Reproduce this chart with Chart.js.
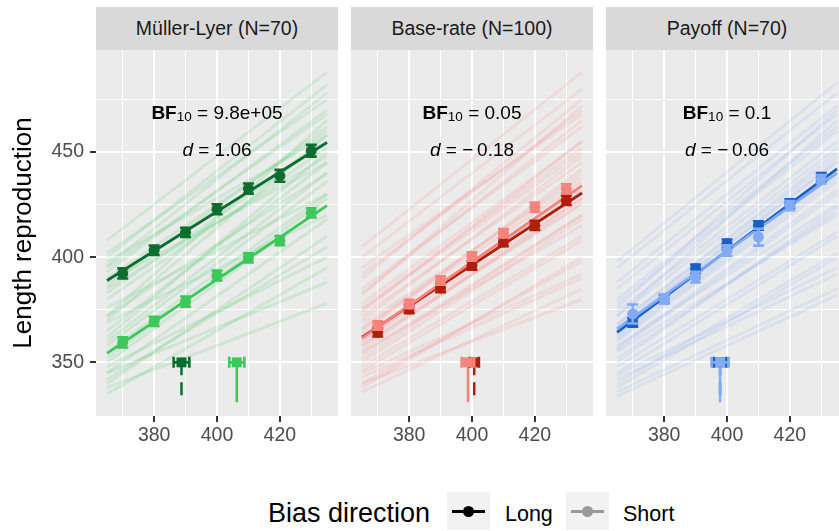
<!DOCTYPE html>
<html>
<head>
<meta charset="utf-8">
<script src="https://cdn.jsdelivr.net/npm/chart.js@4.4.1/dist/chart.umd.min.js"></script>
<style>
  body { margin: 0; width: 839px; height: 531px; overflow: hidden; background: #fff; position: relative;
         font-family: "Liberation Sans", Arial, sans-serif; }
  .strip { position: absolute; top: 7px; height: 43px; width: 242px; background: #D9D9D9; color: #1A1A1A;
           font-size: 19.5px; line-height: 43px; text-align: center; white-space: nowrap; }
  canvas { position: absolute; top: 50px; }
  .lg { position: absolute; white-space: nowrap; color: #000; }
  .key { position: absolute; top: 492px; width: 43px; height: 38px; background: #F2F2F2; }
  .key .ln { position: absolute; left: 5px; right: 5px; top: 18px; height: 3px; }
  .key .dot { position: absolute; left: 16px; top: 14px; width: 11px; height: 11px; border-radius: 50%; }
</style>
</head>
<body>
<div class="strip" style="left:96px">Müller-Lyer (N=70)</div>
<div class="strip" style="left:351px">Base-rate (N=100)</div>
<div class="strip" style="left:606px">Payoff (N=70)</div>
<canvas id="c1" width="338" height="426" style="left:0px"></canvas>
<canvas id="c2" width="242" height="426" style="left:351px"></canvas>
<canvas id="c3" width="242" height="426" style="left:606px"></canvas>

<div class="lg" style="left:268px;top:498px;font-size:27px">Bias direction</div>
<div class="key" style="left:447px"><div class="ln" style="background:#000"></div><div class="dot" style="background:#000"></div></div>
<div class="lg" style="left:505px;top:502px;font-size:21.5px">Long</div>
<div class="key" style="left:566px"><div class="ln" style="background:#999"></div><div class="dot" style="background:#999"></div></div>
<div class="lg" style="left:623px;top:502px;font-size:21.5px">Short</div>

<script>
/* ===== data ===== */
const lengths = [370, 380, 390, 400, 410, 420, 430];
const fitX = [365, 435];
const xGrid = [370, 380, 390, 400, 410, 420, 430];
const xTicks = [380, 400, 420];
const yGrid = [350, 375, 400, 425, 450, 475];
const yTicks = [350, 400, 450];
const bfValues = ['9.8e+05', '0.05', '0.1'];
const dValues = ['1.06', '\u2212\u20090.18', '\u2212\u20090.06'];

// Müller-Lyer
const mlLongMean = [392.3, 403.3, 411.8, 422.8, 432.6, 438.7, 450.6];
const mlLongErr = [2.4, 2.2, 2.2, 2.4, 2.4, 2.8, 2.8];
const mlShortMean = [359.5, 369.5, 378.9, 391.3, 399.7, 407.9, 421.1];
const mlShortErr = [2.4, 2.2, 2.4, 2.4, 2.2, 2.2, 2.2];
const mlLongFit = [388.9, 454.5];
const mlShortFit = [354.3, 424.5];
const mlLongStart = [372, 380, 385, 390, 395, 398, 402, 408, 388, 376, 393, 383, 400, 369, 386, 396];
const mlLongEnd = [440, 452, 448, 460, 468, 458, 475, 488, 445, 430, 470, 455, 482, 420, 462, 478];
const mlShortStart = [335, 340, 345, 350, 355, 360, 365, 370, 348, 338, 358, 362, 342, 352, 345, 372];
const mlShortEnd = [395, 410, 418, 425, 430, 440, 445, 458, 400, 378, 436, 450, 405, 428, 388, 465];

// Base-rate
const brLongMean = [364.3, 375.4, 385.4, 396.0, 407.2, 415.1, 427.0];
const brLongErr = [2, 2, 2, 2, 2, 2.2, 2.2];
const brShortMean = [367.5, 377.8, 388.9, 400.3, 411.4, 423.8, 432.5];
const brShortErr = [2, 2, 2, 2, 2, 2.2, 2.2];
const brLongFit = [362, 430.5];
const brShortFit = [361.5, 434];
const brLongStart = [340, 348, 352, 358, 362, 366, 372, 378, 385, 392, 355, 345, 368, 375, 400, 336, 360, 382];
const brLongEnd = [398, 410, 420, 425, 432, 440, 445, 455, 462, 470, 415, 392, 438, 450, 480, 385, 428, 472];
const brShortStart = [338, 346, 350, 356, 360, 364, 370, 376, 383, 390, 354, 343, 366, 374, 405, 340, 358, 395];
const brShortEnd = [400, 408, 418, 428, 434, 442, 448, 452, 465, 475, 420, 390, 436, 455, 488, 380, 426, 468];

// Payoff
const poLongMean = [369.0, 380.2, 394.5, 406.4, 415.1, 425.5, 438.0];
const poLongErr = [2, 2, 2, 2, 2, 2, 2];
const poShortMean = [373.0, 380.2, 390.5, 403.2, 409.5, 424.5, 437.0];
const poShortErr = [4.5, 2.2, 2.5, 2.5, 4, 2.2, 2];
const poLongFit = [364.3, 442];
const poShortFit = [365.9, 440];
const poLongStart = [340, 348, 352, 356, 362, 366, 372, 378, 385, 395, 344, 358, 368, 376, 336, 360];
const poLongEnd = [402, 412, 422, 430, 440, 446, 452, 460, 468, 478, 395, 425, 450, 470, 385, 436];
const poShortStart = [338, 345, 350, 357, 363, 368, 374, 380, 388, 398, 342, 355, 366, 372, 334, 361];
const poShortEnd = [400, 410, 424, 432, 442, 448, 455, 462, 472, 483, 392, 420, 445, 465, 382, 438];

// bias markers at the bottom
const pseLongX = [388.7, 400.7, 397.8];
const pseLongErr = [2.5, 1.5, 2.0];
const pseShortX = [406.3, 398.7, 397.8];
const pseShortErr = [2.4, 2.0, 2.7];
const pseY = [350, 331];

/* ===== helpers ===== */
function rgba(hex, a) {
  const n = parseInt(hex.slice(1), 16);
  return 'rgba(' + (n >> 16) + ',' + ((n >> 8) & 255) + ',' + (n & 255) + ',' + a + ')';
}
const FONT = '"Liberation Sans", Arial, sans-serif';

const bgPlugin = {
  id: 'panelBg',
  beforeDraw(chart) {
    const a = chart.chartArea, ctx = chart.ctx;
    ctx.save();
    ctx.fillStyle = '#EBEBEB';
    ctx.fillRect(a.left, a.top, a.right - a.left, a.bottom - a.top);
    ctx.restore();
  }
};

const errorBarPlugin = {
  id: 'errorBars',
  beforeDatasetDraw(chart, args) {
    const ds = chart.data.datasets[args.index];
    if (!ds.errY && !ds.errX) return;
    const ctx = chart.ctx, x = chart.scales.x, y = chart.scales.y;
    const cap = 5.5;
    ctx.save();
    ctx.strokeStyle = ds.borderColor;
    ctx.lineWidth = 2.6;
    ctx.beginPath();
    ds.data.forEach((p, i) => {
      const px = x.getPixelForValue(p.x), py = y.getPixelForValue(p.y);
      if (ds.errY) {
        const t = y.getPixelForValue(p.y + ds.errY[i]), b = y.getPixelForValue(p.y - ds.errY[i]);
        ctx.moveTo(px, t); ctx.lineTo(px, b);
        ctx.moveTo(px - cap, t); ctx.lineTo(px + cap, t);
        ctx.moveTo(px - cap, b); ctx.lineTo(px + cap, b);
      }
      if (ds.errX) {
        const l = x.getPixelForValue(p.x - ds.errX[i]), r = x.getPixelForValue(p.x + ds.errX[i]);
        ctx.moveTo(l, py); ctx.lineTo(r, py);
        ctx.moveTo(l, py - cap); ctx.lineTo(l, py + cap);
        ctx.moveTo(r, py - cap); ctx.lineTo(r, py + cap);
      }
    });
    ctx.stroke();
    ctx.restore();
  }
};

function drawRich(ctx, cx, cy, parts) {
  let w = 0;
  parts.forEach(p => { ctx.font = p.f; w += ctx.measureText(p.t).width; });
  let xx = cx - w / 2;
  parts.forEach(p => {
    ctx.font = p.f;
    ctx.fillText(p.t, xx, cy + (p.dy || 0));
    xx += ctx.measureText(p.t).width;
  });
}

const statsPlugin = {
  id: 'stats',
  afterDatasetsDraw(chart, args, opts) {
    const ctx = chart.ctx, x = chart.scales.x, y = chart.scales.y;
    const cx = x.getPixelForValue(400);
    ctx.save();
    ctx.fillStyle = '#000';
    ctx.textBaseline = 'middle';
    ctx.textAlign = 'left';
    drawRich(ctx, cx, y.getPixelForValue(468.4), [
      { t: 'BF', f: 'bold 19px ' + FONT },
      { t: '10', f: '13.5px ' + FONT, dy: 4 },
      { t: ' = ' + opts.bf, f: '19px ' + FONT }
    ]);
    drawRich(ctx, cx, y.getPixelForValue(450.6), [
      { t: 'd', f: 'italic 19px ' + FONT },
      { t: ' = ' + opts.d, f: '19px ' + FONT }
    ]);
    ctx.restore();
  }
};

/* ===== panels ===== */
const panelData = [
  { el: 'c1', dark: '#0B6E2E', light: '#3CC85A',
    longMean: mlLongMean, longErr: mlLongErr, shortMean: mlShortMean, shortErr: mlShortErr,
    longFit: mlLongFit, shortFit: mlShortFit,
    longStart: mlLongStart, longEnd: mlLongEnd, shortStart: mlShortStart, shortEnd: mlShortEnd },
  { el: 'c2', dark: '#B01E0C', light: '#FA827D',
    longMean: brLongMean, longErr: brLongErr, shortMean: brShortMean, shortErr: brShortErr,
    longFit: brLongFit, shortFit: brShortFit,
    longStart: brLongStart, longEnd: brLongEnd, shortStart: brShortStart, shortEnd: brShortEnd },
  { el: 'c3', dark: '#1A5FC8', light: '#82AAF5',
    longMean: poLongMean, longErr: poLongErr, shortMean: poShortMean, shortErr: poShortErr,
    longFit: poLongFit, shortFit: poShortFit,
    longStart: poLongStart, longEnd: poLongEnd, shortStart: poShortStart, shortEnd: poShortEnd }
];

function seg(x0, y0, x1, y1) { return [{ x: x0, y: y0 }, { x: x1, y: y1 }]; }

// no extra padding: panel sizes are fixed
function fixPad(s) { s.paddingTop = 0; s.paddingBottom = 0; s.paddingLeft = 0; s.paddingRight = 0; }

function buildChart(p, idx) {
  const first = idx === 0;
  const ds = [];
  p.longStart.forEach((s, i) => ds.push({ data: seg(fitX[0], s, fitX[1], p.longEnd[i]),
    showLine: true, borderColor: rgba(p.light, 0.14), borderWidth: 3, pointRadius: 0 }));
  p.shortStart.forEach((s, i) => ds.push({ data: seg(fitX[0], s, fitX[1], p.shortEnd[i]),
    showLine: true, borderColor: rgba(p.light, 0.16), borderWidth: 3, pointRadius: 0 }));

  // stems under the bias markers
  ds.push({ data: seg(pseLongX[idx], pseY[0], pseLongX[idx], pseY[1]), showLine: true,
    borderColor: p.dark, borderWidth: 2.5, borderDash: [13, 7], pointRadius: 0 });
  ds.push({ data: seg(pseShortX[idx], pseY[0], pseShortX[idx], pseY[1]), showLine: true,
    borderColor: p.light, borderWidth: 2.5, pointRadius: 0 });

  // fitted lines
  ds.push({ data: seg(fitX[0], p.longFit[0], fitX[1], p.longFit[1]), showLine: true,
    borderColor: p.dark, borderWidth: 2.8, pointRadius: 0 });
  ds.push({ data: seg(fitX[0], p.shortFit[0], fitX[1], p.shortFit[1]), showLine: true,
    borderColor: p.light, borderWidth: 2.8, pointRadius: 0 });

  // means with error bars
  ds.push({ data: lengths.map((x, i) => ({ x: x, y: p.longMean[i] })), errY: p.longErr,
    backgroundColor: p.dark, borderColor: p.dark, borderWidth: 0, pointRadius: 5.5 });
  ds.push({ data: lengths.map((x, i) => ({ x: x, y: p.shortMean[i] })), errY: p.shortErr,
    backgroundColor: p.light, borderColor: p.light, borderWidth: 0, pointRadius: 5.5 });

  // bias markers
  ds.push({ data: [{ x: pseLongX[idx], y: pseY[0] }], errX: [pseLongErr[idx]], pointStyle: 'rect',
    backgroundColor: p.dark, borderColor: p.dark, borderWidth: 0, pointRadius: 7 });
  ds.push({ data: [{ x: pseShortX[idx], y: pseY[0] }], errX: [pseShortErr[idx]], pointStyle: 'rect',
    backgroundColor: p.light, borderColor: p.light, borderWidth: 0, pointRadius: 7 });

  // Chart.js paints dataset 0 last, so reverse to keep the faint lines underneath
  ds.reverse();

  return new Chart(document.getElementById(p.el), {
    type: 'scatter',
    data: { datasets: ds },
    plugins: [bgPlugin, errorBarPlugin, statsPlugin],
    options: {
      responsive: false,
      animation: false,
      events: [],
      layout: { padding: 0, autoPadding: false },
      plugins: {
        legend: { display: false },
        tooltip: { enabled: false },
        stats: { bf: bfValues[idx], d: dValues[idx] }
      },
      scales: {
        x: {
          type: 'linear', min: 361.5, max: 438.5,
          afterBuildTicks: s => { s.ticks = xGrid.map(v => ({ value: v })); },
          afterFit: s => { s.height = 60; fixPad(s); },
          border: { display: false },
          grid: {
            color: '#FFFFFF',
            lineWidth: c => xTicks.includes(c.tick && c.tick.value) ? 2 : 1,
            drawTicks: true, tickLength: 6, tickWidth: 2,
            tickColor: c => xTicks.includes(c.tick && c.tick.value) ? '#333333' : 'rgba(0,0,0,0)'
          },
          ticks: {
            autoSkip: false, maxRotation: 0, padding: 2,
            color: '#4D4D4D', font: { family: FONT, size: 19.5 },
            callback: v => xTicks.includes(v) ? String(v) : ''
          }
        },
        y: {
          type: 'linear', min: 324.5, max: 498.5, position: 'left',
          afterBuildTicks: s => { s.ticks = yGrid.map(v => ({ value: v })); },
          afterFit: s => { s.width = first ? 96 : 0; fixPad(s); },
          border: { display: false },
          grid: {
            color: '#FFFFFF',
            lineWidth: c => yTicks.includes(c.tick && c.tick.value) ? 2 : 1,
            drawTicks: first, tickLength: 6, tickWidth: 2,
            tickColor: c => yTicks.includes(c.tick && c.tick.value) ? '#333333' : 'rgba(0,0,0,0)'
          },
          ticks: {
            display: first, autoSkip: false, padding: 6,
            color: '#4D4D4D', font: { family: FONT, size: 19.5 },
            callback: v => yTicks.includes(v) ? String(v) : ''
          },
          title: {
            display: first, text: 'Length reproduction', color: '#000',
            font: { family: FONT, size: 26 }, padding: { top: 8, bottom: 0 }
          }
        }
      }
    }
  });
}

window.addEventListener('load', () => {
  panelData.forEach((p, i) => buildChart(p, i));
});
</script>
</body>
</html>
